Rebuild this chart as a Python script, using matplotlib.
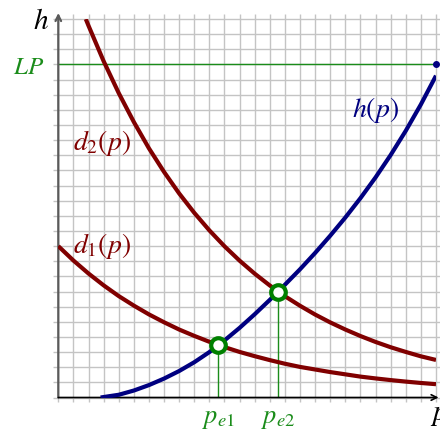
import matplotlib

matplotlib.use("Agg")

import matplotlib.pyplot as plt

plt.rcParams["mathtext.fontset"] = "stix"

# demand curves and supply curve (1 cell = 1 unit)
d1_p = [0, 1, 2, 3, 4, 5, 6, 7, 8, 9, 10, 11, 12, 13, 14, 15, 16, 17, 18, 19, 20, 21, 22, 23, 24, 25]
d1_h = [10.0, 9.05, 8.19, 7.41, 6.70, 6.07, 5.49, 4.97, 4.49, 4.07, 3.68, 3.33, 3.01,
        2.73, 2.47, 2.23, 2.02, 1.85, 1.68, 1.53, 1.38, 1.26, 1.15, 1.05, 0.96, 0.88]

d2_p = [1.82, 2, 3, 4, 5, 6, 7, 8, 9, 10, 11, 12, 13, 14, 15, 16, 17, 18, 19, 20, 21, 22, 23, 24, 25]
d2_h = [25.0, 24.56, 22.22, 20.11, 18.20, 16.46, 14.90, 13.48, 12.20, 11.04, 9.99, 9.04,
        8.18, 7.40, 6.69, 6.06, 5.48, 4.96, 4.49, 4.06, 3.67, 3.32, 3.01, 2.72, 2.48]

h_p = [2.8, 4, 5, 6, 7, 8, 9, 10, 11, 12, 13, 14, 15, 16, 17, 18, 19, 20, 21, 22, 23, 24, 25]
h_h = [0.0, 0.18, 0.46, 0.82, 1.25, 1.75, 2.33, 3.0, 3.77, 4.6, 5.5, 6.45, 7.45, 8.47,
       9.55, 10.69, 11.89, 13.17, 14.54, 16.02, 17.62, 19.36, 21.26]

lp_level = 22
eq_p = [10.6, 14.57]
eq_h = [3.5, 7.0]
eq_labels = ["$p_{e1}$", "$p_{e2}$"]

RED = "#800000"
BLUE = "#000080"
GREEN = "#1a8c1a"
GRID = "#c4c4c4"

fig = plt.figure(figsize=(4.4, 4.36), dpi=100)
ax = fig.add_axes([0.1325, 0.0883, 0.8584, 0.868])
ax.set_xlim(0, 25)
ax.set_ylim(0, 25)
for s in ax.spines.values():
    s.set_visible(False)
ax.set_xticks([])
ax.set_yticks([])

# square grid, lines poke out a little past the box
ax.vlines(range(26), -0.3, 25.33, color=GRID, lw=1.0, clip_on=False, zorder=0)
ax.hlines(range(26), -0.33, 25.3, color=GRID, lw=1.0, clip_on=False, zorder=0)

# axes with arrows
ax.annotate("", xy=(0, 25.4), xytext=(0, 0), annotation_clip=False,
            arrowprops=dict(arrowstyle="->", color="#5a5a5a", lw=1.6,
                            shrinkA=0, shrinkB=0, mutation_scale=10))
ax.annotate("", xy=(25.17, 0), xytext=(0, 0), annotation_clip=False,
            arrowprops=dict(arrowstyle="->", color="black", lw=1.2,
                            shrinkA=0, shrinkB=0, mutation_scale=10))

# LP level
ax.plot([0, 25], [lp_level, lp_level], color=GREEN, lw=1.0, zorder=2)
ax.plot([25], [lp_level], "o", color=BLUE, ms=4, zorder=4, clip_on=False)

ax.plot(d1_p, d1_h, color=RED, lw=3, solid_capstyle="butt", zorder=3)
ax.plot(d2_p, d2_h, color=RED, lw=3, solid_capstyle="butt", zorder=3)
ax.plot(h_p, h_h, color=BLUE, lw=3, solid_capstyle="butt", zorder=3)

for px, hy, lab in zip(eq_p, eq_h, eq_labels):
    ax.plot([px, px], [0, hy], color=GREEN, lw=1.0, zorder=2)
    ax.plot([px], [hy], "o", ms=10.5, mfc="white", mec="#008000", mew=3, zorder=5)
    ax.text(px, -1.68, lab, color=GREEN, fontsize=19, ha="center", va="baseline")

ax.text(-1.15, 24.34, "$h$", fontsize=21, ha="center", va="baseline", color="black")
ax.text(24.6, -1.5, "$p$", fontsize=21, ha="left", va="baseline", color="black")
ax.text(-1.99, 21.37, "$LP$", fontsize=18, color=GREEN, ha="center", va="baseline")
ax.text(0.99, 16.37, "$d_2(p)$", fontsize=20, color=RED, ha="left", va="baseline")
ax.text(0.99, 9.54, "$d_1(p)$", fontsize=20, color=RED, ha="left", va="baseline")
ax.text(19.43, 18.55, "$h(p)$", fontsize=20, color=BLUE, ha="left", va="baseline")

fig.savefig("out.png", dpi=100)
plt.close(fig)
